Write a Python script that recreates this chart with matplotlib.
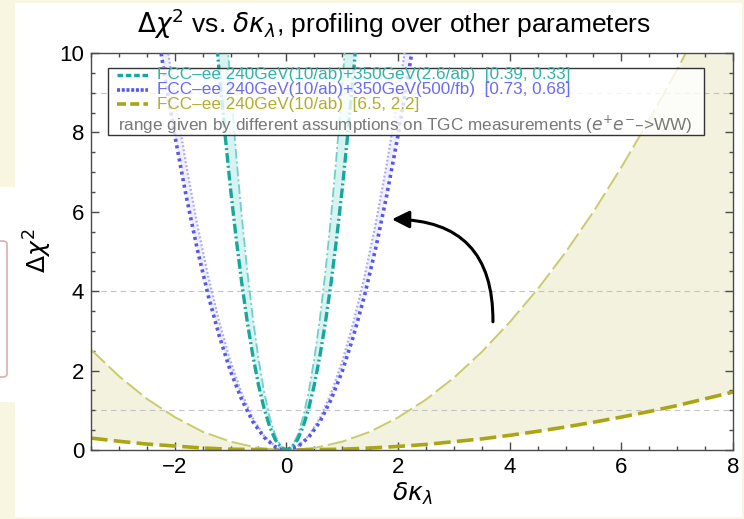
import matplotlib
matplotlib.use("Agg")
import matplotlib.pyplot as plt
from matplotlib.patches import Rectangle, FancyBboxPatch, FancyArrowPatch
from matplotlib.ticker import MultipleLocator

plt.rcParams['font.family'] = ['Liberation Sans', 'DejaVu Sans']
plt.rcParams['mathtext.fontset'] = 'dejavusans'
plt.rcParams['lines.scale_dashes'] = False

# ── data ──
# FCC-ee 240+350 (2.6/ab): outer (thick) and inner (thin) curves
teal_x = [-1.27, -1.2, -1.1, -1.0, -0.9, -0.8, -0.7, -0.6, -0.5, -0.4, -0.3, -0.2, -0.1, 0.0,
          0.1, 0.2, 0.3, 0.4, 0.5, 0.6, 0.7, 0.8, 0.9, 1.0, 1.1, 1.2, 1.27]
teal_thick = [10.60, 9.47, 7.96, 6.57, 5.33, 4.21, 3.22, 2.37, 1.64, 1.05, 0.59, 0.26, 0.07, 0.0,
              0.07, 0.26, 0.59, 1.05, 1.64, 2.37, 3.22, 4.21, 5.33, 6.57, 7.96, 9.47, 10.60]
teal_xi = [-1.08, -1.0, -0.9, -0.8, -0.7, -0.6, -0.5, -0.4, -0.3, -0.2, -0.1, 0.0,
           0.1, 0.2, 0.3, 0.4, 0.5, 0.6, 0.7, 0.8, 0.9, 1.0, 1.08]
teal_thin = [10.71, 9.18, 7.44, 5.88, 4.50, 3.31, 2.30, 1.47, 0.83, 0.37, 0.09, 0.0,
             0.09, 0.37, 0.83, 1.47, 2.30, 3.31, 4.50, 5.88, 7.44, 9.18, 10.71]

# FCC-ee 240+350 (500/fb)
blue_x = [-2.3, -2.2, -2.0, -1.8, -1.6, -1.4, -1.2, -1.0, -0.8, -0.6, -0.4, -0.2, 0.0,
          0.2, 0.4, 0.6, 0.8, 1.0, 1.2, 1.4, 1.6, 1.8, 2.0, 2.2, 2.3]
blue_thick = [10.49, 9.60, 7.93, 6.43, 5.08, 3.89, 2.86, 1.98, 1.27, 0.71, 0.32, 0.08, 0.0,
              0.08, 0.32, 0.71, 1.27, 1.98, 2.86, 3.89, 5.08, 6.43, 7.93, 9.60, 10.49]
blue_xi = [-2.2, -2.0, -1.8, -1.6, -1.4, -1.2, -1.0, -0.8, -0.6, -0.4, -0.2, 0.0,
           0.2, 0.4, 0.6, 0.8, 1.0, 1.2, 1.4, 1.6, 1.8, 2.0, 2.2]
blue_thin = [10.78, 8.91, 7.22, 5.70, 4.37, 3.21, 2.23, 1.43, 0.80, 0.36, 0.09, 0.0,
             0.09, 0.36, 0.80, 1.43, 2.23, 3.21, 4.37, 5.70, 7.22, 8.91, 10.78]

# FCC-ee 240 only
olive_x = [-3.5, -3.0, -2.5, -2.0, -1.5, -1.0, -0.5, 0.0, 0.5, 1.0, 1.5, 2.0,
           2.5, 3.0, 3.5, 4.0, 4.5, 5.0, 5.5, 6.0, 6.5, 7.0, 7.5, 8.0]
olive_thin = [2.53, 1.86, 1.29, 0.83, 0.46, 0.21, 0.05, 0.0, 0.05, 0.21, 0.46, 0.82,
              1.27, 1.82, 2.47, 3.22, 4.05, 4.98, 6.00, 7.12, 8.32, 9.58, 10.95, 12.40]
olive_thick = [0.30, 0.22, 0.15, 0.10, 0.05, 0.02, 0.01, 0.0, 0.01, 0.02, 0.05, 0.09,
               0.14, 0.21, 0.28, 0.37, 0.47, 0.58, 0.70, 0.83, 0.97, 1.12, 1.29, 1.46]

ref_levels = [1, 4, 9]

legend_rows = [
    ("FCC–ee 240GeV(10/ab)+350GeV(2.6/ab)  [0.39, 0.33]", '#2FB3AB'),
    ("FCC–ee 240GeV(10/ab)+350GeV(500/fb)  [0.73, 0.68]", '#6B6BF2'),
    ("FCC–ee 240GeV(10/ab)  [6.5, 2.2]", '#B3AD2C'),
]
note = r"range given by different assumptions on TGC measurements ($e^{+}e^{-}$–>WW)"

TEAL, TEAL_L, TEAL_F = '#17A79D', '#6FD0C8', '#D6F3F1'
BLUE, BLUE_L, BLUE_F = '#5656F0', '#A9A9F8', '#EFEFFF'
OLIVE, OLIVE_L, OLIVE_F = '#A9A514', '#CBCA6C', '#F3F2DF'

W, H = 744, 519
fig = plt.figure(figsize=(W / 100, H / 100), dpi=100)
fig.patch.set_facecolor('#F8F6E0')

# slide background pieces
fig.patches.append(Rectangle((15 / W, 1 - 517 / H), 727 / W, 514 / H,
                             transform=fig.transFigure, facecolor='white', edgecolor='none', zorder=-2))
fig.patches.append(Rectangle((0, 1 - 402 / H), 15 / W, 215 / H,
                             transform=fig.transFigure, facecolor='white', edgecolor='none', zorder=-2))
fig.patches.append(FancyBboxPatch((-20 / W, 1 - 377 / H), 27 / W, 136 / H,
                                  boxstyle="round,pad=0,rounding_size=0.006",
                                  transform=fig.transFigure, facecolor='none',
                                  edgecolor='#D9AFAF', linewidth=1.2, zorder=-1))

ax = fig.add_axes([91 / W, 1 - 450 / H, 642 / W, 397 / H])
ax.set_zorder(3)
ax.set_xlim(-3.5, 8)
ax.set_ylim(0, 10)

for lv in ref_levels:
    ax.axhline(lv, color='#C4C4C4', lw=0.8, dashes=(4, 3), zorder=1)

# bands
ax.fill_between(olive_x, olive_thick, olive_thin, color=OLIVE_F, lw=0, zorder=0.5)
ax.fill(blue_x + blue_xi[::-1], blue_thick + blue_thin[::-1], color=BLUE_F, lw=0, zorder=0.6)
ax.fill(teal_x + teal_xi[::-1], teal_thick + teal_thin[::-1], color=TEAL_F, lw=0, zorder=0.7)

ax.plot(olive_x, olive_thin, color=OLIVE_L, lw=1.4, dashes=(14, 3.5), zorder=2)
ax.plot(olive_x, olive_thick, color=OLIVE, lw=2.6, dashes=(12, 4.5), zorder=2)
ax.plot(blue_xi, blue_thin, color=BLUE_L, lw=1.6, dashes=(1.3, 1.6), zorder=3)
ax.plot(blue_x, blue_thick, color=BLUE, lw=2.6, dashes=(2.2, 2.6), zorder=3)
ax.plot(teal_xi, teal_thin, color=TEAL_L, lw=1.3, dashes=(7, 2.2, 1.4, 2.2), zorder=4)
ax.plot(teal_x, teal_thick, color=TEAL, lw=2.4, dashes=(7, 2.2, 1.4, 2.2), zorder=4)

# curved arrow
arr = FancyArrowPatch((3.70, 3.23), (1.89, 5.81), connectionstyle="arc3,rad=0.5",
                      arrowstyle="-|>,head_length=0.8,head_width=0.4", mutation_scale=13,
                      color='black', lw=2.2, shrinkA=0, shrinkB=0, zorder=6)
ax.add_patch(arr)

# axes styling
for sp in ax.spines.values():
    sp.set_color('#4A4A4A')
    sp.set_linewidth(1.0)
ax.xaxis.set_major_locator(MultipleLocator(2))
ax.xaxis.set_minor_locator(MultipleLocator(0.5))
ax.yaxis.set_major_locator(MultipleLocator(2))
ax.yaxis.set_minor_locator(MultipleLocator(0.5))
ax.tick_params(which='both', direction='in', top=True, right=True, color='#4A4A4A', width=1.0)
ax.tick_params(which='major', length=5.5, labelsize=16, pad=5)
ax.tick_params(which='minor', length=3)

# legend box
lx0, lx1 = (108 - 91) / 642, (704 - 91) / 642
ly0, ly1 = (450 - 135) / 397, (450 - 68) / 397
ax.add_patch(Rectangle((lx0, ly0), lx1 - lx0, ly1 - ly0, transform=ax.transAxes,
                       facecolor='white', alpha=0.8, edgecolor='none', zorder=7))
ax.add_patch(Rectangle((lx0, ly0), lx1 - lx0, ly1 - ly0, transform=ax.transAxes,
                       facecolor='none', edgecolor='#333333', lw=1.0, zorder=8))
row_y = [75, 89.5, 104]
styles = [dict(color=TEAL, lw=2.4, dashes=(4, 2, 4, 2)),
          dict(color=BLUE, lw=2.6, dashes=(2.2, 1.2)),
          dict(color=OLIVE, lw=2.6, dashes=(6.5, 3))]
hx0, hx1 = (117 - 91) / 642, (148 - 91) / 642
tx = (157 - 91) / 642
for (label, col), st, yp in zip(legend_rows, styles, row_y):
    ya = (450 - yp) / 397
    ax.plot([hx0, hx1], [ya, ya], transform=ax.transAxes, zorder=9, **st)
    ax.text(tx, ya, label, transform=ax.transAxes, color=col, fontsize=12.3,
            va='center', ha='left', zorder=9)
ax.text((118 - 91) / 642, (450 - 124.5) / 397, note, transform=ax.transAxes, color='#777777',
        fontsize=12.3, va='center', ha='left', zorder=9)

# labels and title
fig.text(38 / W, 1 - 251 / H, r"$\Delta\chi^2$", rotation=90, fontsize=18,
         ha='center', va='center')
fig.text(412 / W, 1 - 494 / H, r"$\delta\kappa_\lambda$", fontsize=18, ha='center', va='center')
fig.text(394 / W, 1 - 24 / H, r"$\Delta\chi^2$ vs. $\delta\kappa_\lambda$, profiling over other parameters",
         fontsize=19, ha='center', va='center')

fig.savefig("out.png", dpi=100, facecolor=fig.get_facecolor())
